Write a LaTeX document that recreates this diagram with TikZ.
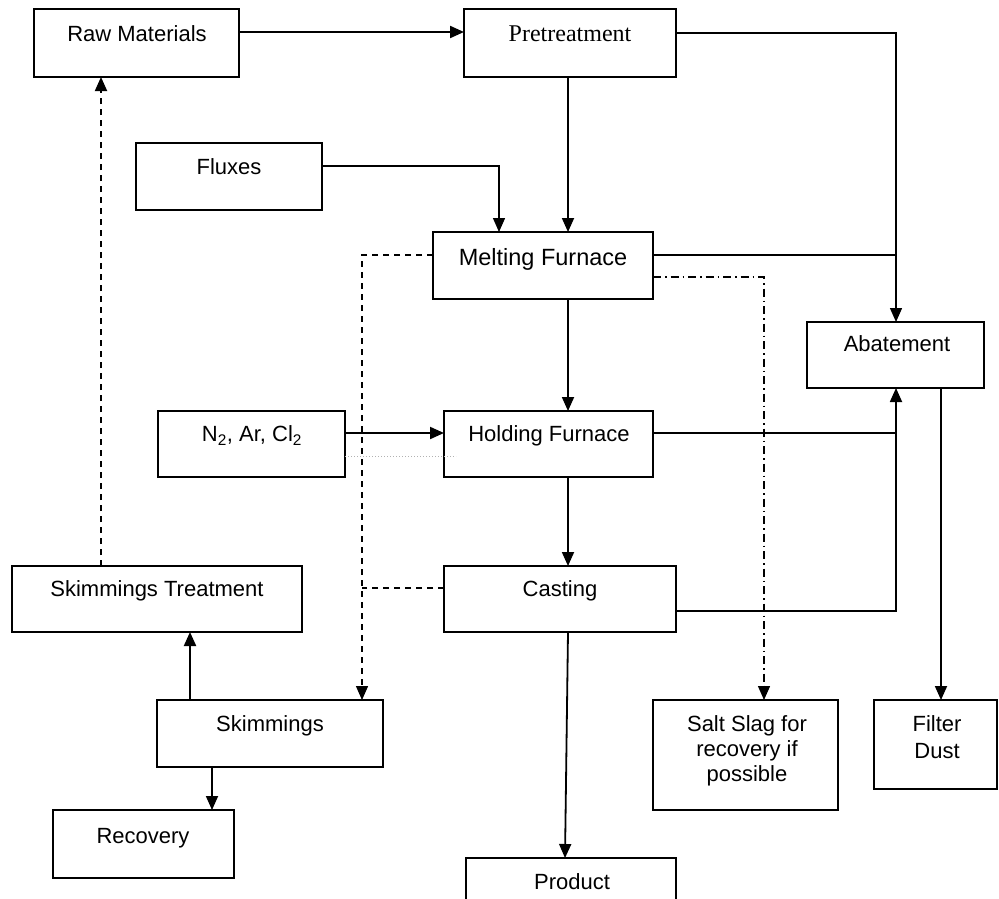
\documentclass[tikz,border=0pt]{standalone}
\usepackage{fontspec}
\setmainfont{Liberation Sans}
\newfontfamily\seriffont{Liberation Serif}
\usetikzlibrary{arrows.meta,calc}
\begin{document}
\begin{tikzpicture}[x=1pt,y=-1pt,
  box/.style={draw,line width=1.4pt,inner sep=0pt,outer sep=0pt,rectangle},
  lbl/.style={inner sep=0pt,anchor=base,font=\fontsize{22}{25}\selectfont},
  tip/.style={-{Triangle[length=14pt,width=12pt]}},
  arr/.style={line width=1.8pt,tip},
  thin/.style={line width=1.3pt},
  dsh/.style={line width=1.4pt,dash pattern=on 6pt off 5pt},
  dshdot/.style={line width=1.4pt,dash pattern=on 8pt off 4pt on 1.5pt off 4pt}]
\useasboundingbox (0,0) rectangle (999,898);
% boxes
\node[box,minimum width=205pt,minimum height=68pt] (raw) at (136.5,43) {};
\node[box,minimum width=212pt,minimum height=68pt] (pre) at (570,43) {};
\node[box,minimum width=186pt,minimum height=67pt] (flux) at (229,176.5) {};
\node[box,minimum width=220pt,minimum height=67pt] (melt) at (543,265.5) {};
\node[box,minimum width=177pt,minimum height=66pt] (abate) at (895.5,355) {};
\node[box,minimum width=187pt,minimum height=66pt] (n2) at (251.5,444) {};
\node[box,minimum width=209pt,minimum height=66pt] (hold) at (548.5,444) {};
\node[box,minimum width=290pt,minimum height=66pt] (skt) at (157,599) {};
\node[box,minimum width=232pt,minimum height=66pt] (cast) at (560,599) {};
\node[box,minimum width=226pt,minimum height=67pt] (skim) at (270,733.5) {};
\node[box,minimum width=185pt,minimum height=110pt] (salt) at (745.5,755) {};
\node[box,minimum width=123pt,minimum height=89pt] (filt) at (935.5,744.5) {};
\node[box,minimum width=181pt,minimum height=68pt] (rec) at (143.5,844) {};
\node[box,minimum width=210pt,minimum height=56pt] (prod) at (571,886) {};
% labels
\node[lbl] (traw) at (137,41) {Raw Materials};
\node[lbl,font=\seriffont\fontsize{24}{26}\selectfont] (tpre) at (570,41) {Pretreatment};
\node[lbl] (tflux) at (229,174.5) {Fluxes};
\node[lbl,font=\fontsize{23.5}{26}\selectfont] (tmelt) at (543,265.5) {Melting Furnace};
\node[lbl] (tabate) at (897,351.5) {Abatement};
\node[lbl] (tn2) at (252,441.5) {N\textsubscript{2}, Ar, Cl\textsubscript{2}};
\node[lbl] (thold) at (549,441.5) {Holding Furnace};
\node[lbl] (tskt) at (157,596.5) {Skimmings Treatment};
\node[lbl] (tcast) at (560,596.5) {Casting};
\node[lbl] (tskim) at (270,731.5) {Skimmings};
\node[lbl] (tsalt1) at (747,731.5) {Salt Slag for};
\node[lbl] (tsalt2) at (747,756.5) {recovery if};
\node[lbl] (tsalt3) at (747,781.5) {possible};
\node[lbl] (tfilt1) at (937,731.5) {Filter};
\node[lbl] (tfilt2) at (937,758.5) {Dust};
\node[lbl] (trec) at (143,843.5) {Recovery};
\node[lbl] (tprod) at (572,889.5) {Product};
% helper coordinates
\coordinate (dv) at ([xshift=92pt]skim.north);
\coordinate (cw) at ([yshift=11pt]cast.west);
\coordinate (ax) at ([xshift=0.5pt]abate.north);
% connectors
\draw[arr,line width=2.1pt] ([yshift=11pt]raw.east) -- ([yshift=11pt]pre.west);
\draw[arr,line width=1.4pt] ([yshift=10pt]pre.east) -| (ax);
\draw[arr,line width=1.4pt] ([yshift=10.5pt]flux.east) -| ([xshift=-44pt]melt.north);
\draw[arr] ([xshift=-2pt]pre.south) -- ([xshift=-2pt]pre.south |- melt.north);
\draw[thin] ([yshift=10.5pt]melt.east) -- ([yshift=10.5pt]melt.east -| ax);
\draw[arr] ([xshift=25pt]melt.south) -- ([xshift=25pt]melt.south |- hold.north);
\draw[arr,line width=2.1pt] ([yshift=11pt]n2.east) -- ([yshift=11pt]hold.west);
\draw[thin] ([yshift=11pt]hold.east) -- ([yshift=11pt]hold.east -| ax);
\draw[arr] ([xshift=19.5pt]hold.south) -- ([xshift=19.5pt]hold.south |- cast.north);
\draw[arr] ([yshift=-12pt]cast.east) -| ([xshift=0.5pt]abate.south);
\draw[arr] ([xshift=45.5pt]abate.south) -- ([xshift=45.5pt]abate.south |- filt.north);
\draw[arr] ([xshift=8pt]cast.south) -- ([xshift=-6pt]prod.north);
\draw[arr,line width=2.1pt] ([xshift=-80pt]skim.north) -- ([xshift=-80pt]skim.north |- skt.south);
\draw[arr] ([xshift=-58pt]skim.south) -- ([xshift=-58pt]skim.south |- rec.north);
\draw[dsh,line width=1.8pt,tip] ([xshift=-56pt]skt.north) -- ([xshift=-56pt]skt.north |- raw.south);
\draw[dsh,tip] ([yshift=10.5pt]melt.west) -| (dv);
\draw[dsh] (cw) -- (cw -| dv);
\draw[dshdot,tip] ([yshift=-11.5pt]melt.east) -| ([xshift=18.5pt]salt.north);
\draw[gray!60,line width=1pt,dotted] ([yshift=-12pt]n2.east) -- ([yshift=-12pt,xshift=12pt]hold.west);
\end{tikzpicture}
\end{document}
